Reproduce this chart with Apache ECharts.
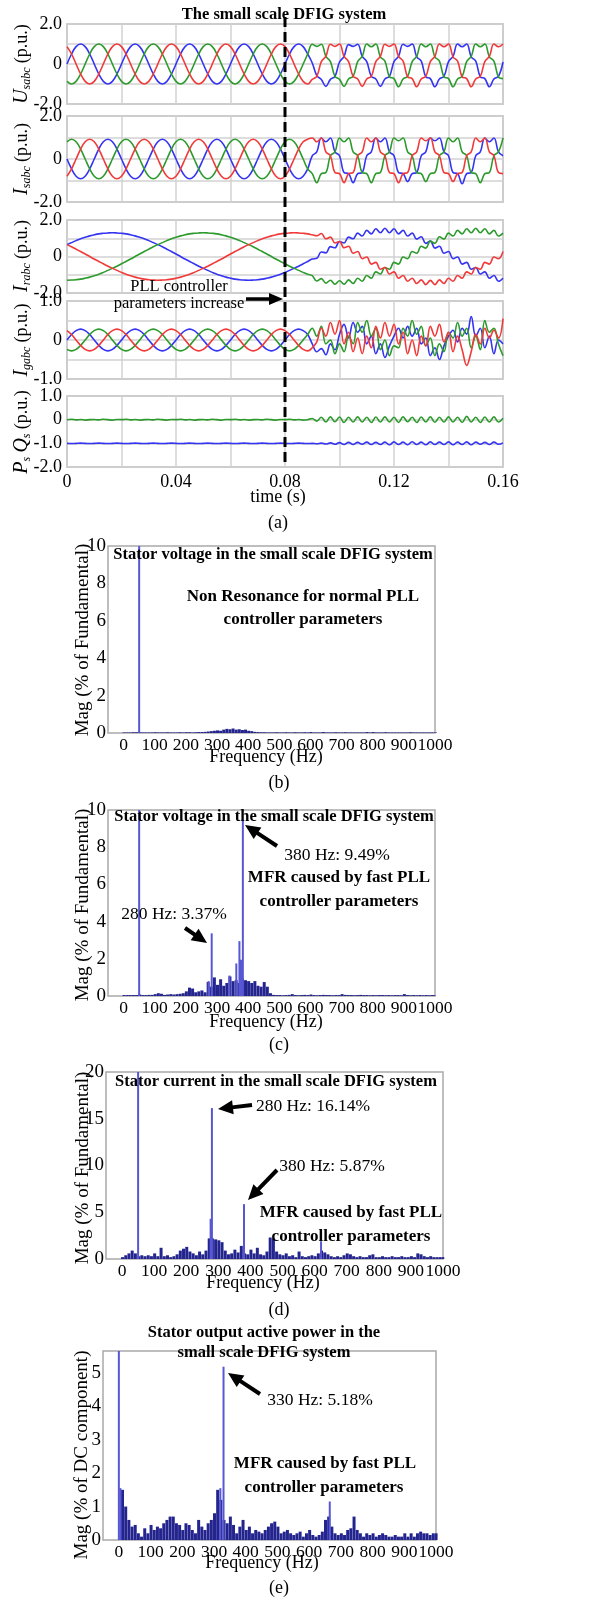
<!DOCTYPE html>
<html>
<head>
<meta charset="utf-8">
<script src="https://cdn.jsdelivr.net/npm/echarts@6/dist/echarts.min.js"></script>
<style>
  html, body { margin: 0; padding: 0; background: #fff; }
  #main { width: 608px; height: 1600px; }
</style>
</head>
<body>
<div id="main"></div>
<script>
// ---- (a) time waveforms, one sample every dt seconds ----
const dt = 1 / 600;

const usBlue = [
  0,.5,.87,1,.87,.5,0,-.5,-.87,-1,-.87,-.5,
  0,.5,.87,1,.87,.5,0,-.5,-.87,-1,-.87,-.5,
  0,.5,.87,1,.87,.5,0,-.5,-.87,-1,-.87,-.5,
  0,.5,.87,1,.87,.5,0,-.5,-.87,-1,-.87,-.5,
  0,.5,.87,1,.87,.5,.05,-.58,-.77,-1.12,-.77,-.62,
  .1,.38,.97,.88,.99,.38,.12,-.62,-.75,-1.12,-.75,-.62,
  .12,.38,.99,.88,1.0,.36,.14,-.64,-.73,-1.14,-.75,-.62,
  .12,.38,1.0,.86,1.0,.36,.14,-.64,-.73,-1.14,-.75,-.62,
  .1
];
const usRed = [
  .87,.5,0,-.5,-.87,-1,-.87,-.5,0,.5,.87,1,
  .87,.5,0,-.5,-.87,-1,-.87,-.5,0,.5,.87,1,
  .87,.5,0,-.5,-.87,-1,-.87,-.5,0,.5,.87,1,
  .87,.5,0,-.5,-.87,-1,-.87,-.5,0,.5,.87,1,
  .87,.5,0,-.5,-.87,-1,-.77,-.62,.12,.38,.99,.88,
  1.0,.38,.12,-.62,-.75,-1.12,-.75,-.62,.12,.38,.99,.88,
  1.0,.38,.14,-.64,-.73,-1.14,-.75,-.62,.12,.38,1.0,.86,
  1.0,.36,.14,-.64,-.73,-1.14,-.75,-.62,.12,.38,1.0,.86,
  1.0
];
const usGreen = [
  -.87,-1,-.87,-.5,0,.5,.87,1,.87,.5,0,-.5,
  -.87,-1,-.87,-.5,0,.5,.87,1,.87,.5,0,-.5,
  -.87,-1,-.87,-.5,0,.5,.87,1,.87,.5,0,-.5,
  -.87,-1,-.87,-.5,0,.5,.87,1,.87,.5,0,-.5,
  -.87,-1,-.87,-.5,0,.5,.99,.88,.99,.38,.12,-.62,
  -.77,-1.12,-.75,-.62,.12,.38,1.0,.86,1.0,.36,.14,-.64,
  -.73,-1.14,-.75,-.62,.12,.38,1.0,.86,1.0,.36,.14,-.64,
  -.73,-1.14,-.75,-.62,.12,.38,1.0,.86,1.0,.36,.14,-.64,
  -.73
];

const isBlue = [
  0,-.46,-.8,-.92,-.8,-.46,0,.46,.8,.92,.8,.46,
  0,-.46,-.8,-.92,-.8,-.46,0,.46,.8,.92,.8,.46,
  0,-.46,-.8,-.92,-.8,-.46,0,.46,.8,.92,.8,.46,
  0,-.46,-.8,-.92,-.8,-.46,0,.46,.8,.92,.8,.46,
  0,-.46,-.8,-.92,-.8,-.46,.15,.33,.98,.8,.98,.33,
  .15,-.63,-.68,-1.1,-.68,-.63,.15,.33,.98,.8,.98,.33,
  .15,-.63,-.68,-1.05,-.68,-.63,.15,.33,.98,.85,.98,.33,
  .15,-.63,-.68,-1.15,-.68,-.63,.15,.33,.98,.8,.98,.33,
  .15
];
const isGreen = [
  .8,.92,.8,.46,0,-.46,-.8,-.92,-.8,-.46,0,.46,
  .8,.92,.8,.46,0,-.46,-.8,-.92,-.8,-.46,0,.46,
  .8,.92,.8,.46,0,-.46,-.8,-.92,-.8,-.46,0,.46,
  .8,.92,.8,.46,0,-.46,-.8,-.92,-.8,-.46,0,.46,
  .8,.92,.8,.46,0,-.46,-.68,-1.1,-.68,-.63,.15,.33,
  .98,.8,.98,.33,.15,-.63,-.68,-1.1,-.68,-.63,.15,.33,
  .98,.85,.98,.33,.15,-.63,-.68,-1.05,-.68,-.63,.15,.33,
  .98,.8,.98,.33,.15,-.63,-.68,-1.1,-.68,-.63,.15,.33,
  .98
];
const isRed = [
  -.8,-.46,0,.46,.8,.92,.8,.46,0,-.46,-.8,-.92,
  -.8,-.46,0,.46,.8,.92,.8,.46,0,-.46,-.8,-.92,
  -.8,-.46,0,.46,.8,.92,.8,.46,0,-.46,-.8,-.92,
  -.8,-.46,0,.46,.8,.92,.8,.46,0,-.46,-.8,-.92,
  -.8,-.46,0,.46,.8,.92,.98,.8,.98,.33,.15,-.63,
  -.68,-1.1,-.68,-.63,.15,.33,.98,.8,.98,.33,.15,-.63,
  -.68,-1.1,-.68,-.63,.15,.33,.98,.85,.98,.33,.15,-.63,
  -.68,-1.05,-.68,-.63,.15,.33,.98,.8,.98,.33,.15,-.63,
  -.68
];

const irBlue = [
  .65,.76,.87,.97,1.05,1.13,1.19,1.24,1.27,1.29,
  1.3,1.29,1.27,1.24,1.19,1.13,1.05,.97,.87,.76,
  .65,.53,.40,.27,.14,0,-.14,-.27,-.40,-.53,
  -.65,-.76,-.87,-.97,-1.05,-1.13,-1.19,-1.24,-1.27,-1.29,
  -1.3,-1.29,-1.27,-1.24,-1.19,-1.13,-1.05,-.97,-.87,-.76,
  -.65,-.53,-.40,-.27,-.14,
  -.1,.25,.2,.54,.48,.82,.74,1.06,.97,1.28,1.12,1.43,1.24,1.52,1.3,1.55,1.3,1.52,1.24,1.43,1.12,
  1.28,.95,1.08,.72,.84,.46,.56,.18,.27,-.12,-.03,-.42,-.32,-.7,-.6,-.96,-.84,-1.19,-1.04,-1.36,-1.19
];
const irGreen = [
  -1.3,-1.29,-1.27,-1.24,-1.19,-1.13,-1.05,-.97,-.87,-.76,
  -.65,-.53,-.40,-.27,-.14,0,.14,.27,.40,.53,
  .65,.76,.87,.97,1.05,1.13,1.19,1.24,1.27,1.29,
  1.3,1.29,1.27,1.24,1.19,1.13,1.05,.97,.87,.76,
  .65,.53,.40,.27,.14,0,-.14,-.27,-.40,-.53,
  -.65,-.76,-.87,-.97,-1.05,
  -1.34,-1.21,-1.46,-1.3,-1.52,-1.33,-1.52,-1.28,-1.48,-1.19,-1.36,-1.04,-1.19,-.84,-.96,-.6,-.7,-.32,-.42,-.03,-.12,
  .27,.18,.56,.46,.84,.72,1.08,.95,1.28,1.12,1.43,1.24,1.52,1.3,1.55,1.3,1.52,1.24,1.43,1.12,1.28
];
const irRed = [
  .65,.53,.40,.27,.14,0,-.14,-.27,-.40,-.53,
  -.65,-.76,-.87,-.97,-1.05,-1.13,-1.19,-1.24,-1.27,-1.29,
  -1.3,-1.29,-1.27,-1.24,-1.19,-1.13,-1.05,-.97,-.87,-.76,
  -.65,-.53,-.40,-.27,-.14,0,.14,.27,.40,.53,
  .65,.76,.87,.97,1.05,1.13,1.19,1.24,1.27,1.29,
  1.3,1.29,1.27,1.24,1.19,
  1.14,1.26,.97,1.06,.74,.82,.48,.56,.18,.27,-.12,-.03,-.42,-.32,-.7,-.6,-.96,-.84,-1.19,-1.04,-1.36,
  -1.19,-1.48,-1.28,-1.54,-1.31,-1.54,-1.28,-1.48,-1.19,-1.36,-1.04,-1.19,-.84,-.96,-.6,-.7,-.32,-.42,-.03,-.12,.27
];

const igBlue = [
  0,.14,.24,.28,.24,.14,0,-.14,-.24,-.28,-.24,-.14,
  0,.14,.24,.28,.24,.14,0,-.14,-.24,-.28,-.24,-.14,
  0,.14,.24,.28,.24,.14,0,-.14,-.24,-.28,-.24,-.14,
  0,.14,.24,.28,.24,.14,0,-.14,-.24,-.28,-.24,-.14,
  0,.14,.24,.28,.24,.14,
  -.1,-.3,-.22,-.38,-.1,-.25,.15,.4,.05,.45,.2,.35,-.1,.1,-.35,-.1,-.45,-.15,.1,.3,.05,.35,
  .1,.3,-.1,.05,-.4,-.2,-.5,-.15,.1,.25,-.05,.3,.15,.6,.1,.3,-.2,.1,-.35,0,-.1
];
const igRed = [
  .24,.14,0,-.14,-.24,-.28,-.24,-.14,0,.14,.24,.28,
  .24,.14,0,-.14,-.24,-.28,-.24,-.14,0,.14,.24,.28,
  .24,.14,0,-.14,-.24,-.28,-.24,-.14,0,.14,.24,.28,
  .24,.14,0,-.14,-.24,-.28,-.24,-.14,0,.14,.24,.28,
  .24,.14,0,-.14,-.24,-.28,
  -.2,-.05,.3,.1,.45,.15,.5,-.1,.2,-.3,.05,-.35,.1,-.2,.35,.05,.45,.1,.4,-.1,.2,-.35,
  0,-.4,.1,-.15,.35,.1,.4,-.05,.2,-.3,.1,-.25,-.65,-.3,.15,-.1,.3,.05,.25,.05,.55
];
const igGreen = [
  -.24,-.28,-.24,-.14,0,.14,.24,.28,.24,.14,0,-.14,
  -.24,-.28,-.24,-.14,0,.14,.24,.28,.24,.14,0,-.14,
  -.24,-.28,-.24,-.14,0,.14,.24,.28,.24,.14,0,-.14,
  -.24,-.28,-.24,-.14,0,.14,.24,.28,.24,.14,0,-.14,
  -.24,-.28,-.24,-.14,0,.14,
  .3,.1,.35,-.1,0,-.35,-.1,-.3,.1,-.1,.45,.2,.5,.1,.3,-.25,0,-.4,-.15,-.2,.3,.1,
  .5,.15,.35,-.15,.05,-.4,-.1,-.3,.2,.05,.45,.1,.3,-.2,.1,-.25,.5,.2,.3,-.1,-.4
];

const qsGreen = [
  0,.02,-.01,.01,-.02,0,.01,-.01,.02,0,-.02,.01,
  0,.02,-.01,.01,-.02,0,.01,-.01,.02,0,-.02,.01,
  0,.02,-.01,.01,-.02,0,.01,-.01,.02,0,-.02,.01,
  0,.02,-.01,.01,-.02,0,.01,-.01,.02,0,-.02,.01,
  0,.02,-.01,.01,-.02,0,
  .05,-.06,.1,-.1,.12,-.09,.11,-.12,.1,-.1,.12,-.1,.1,-.12,.11,-.1,.12,-.1,.1,-.12,.12,-.09,
  .1,-.12,.11,-.1,.12,-.11,.1,-.1,.12,-.1,.1,-.12,.14,-.1,.1,-.12,.11,-.1,.12,-.1,.06
];
const psBlue = [
  -1,-1.01,-1,-.99,-1,-1.01,-1,-.99,-1,-1.01,-1,-.99,
  -1,-1.01,-1,-.99,-1,-1.01,-1,-.99,-1,-1.01,-1,-.99,
  -1,-1.01,-1,-.99,-1,-1.01,-1,-.99,-1,-1.01,-1,-.99,
  -1,-1.01,-1,-.99,-1,-1.01,-1,-.99,-1,-1.01,-1,-.99,
  -1,-1.01,-1,-.99,-1,-1.01,
  -1,-1.02,-.99,-1.03,-.98,-1.04,-.97,-1.05,-.96,-1.05,-.96,-1.04,-.95,-1.05,-.96,-1.05,-.95,-1.06,-.94,-1.05,-.95,-1.06,
  -.93,-1.05,-.95,-1.06,-.94,-1.05,-.95,-1.05,-.94,-1.06,-.95,-1.05,-.94,-1.06,-.95,-1.04,-.96,-1.05,-.95,-1.04,-.98
];

// ---- (b)-(e) spectra: bins every binHz from 0 to 1000 Hz, plus single spikes [Hz, %] ----
const binHz = 10;
const specB = [
  .03,.03,.03,.04,.04,.04,.03,.03,.03,.03,
  .04,.03,.03,.03,.04,.03,.03,.03,.04,.03,
  .04,.04,.03,.04,.05,.05,.06,.08,.1,.12,
  .14,.12,.18,.22,.2,.24,.18,.2,.16,.18,
  .12,.1,.06,.05,.04,.04,.03,.03,.03,.04,
  .03,.03,.04,.03,.03,.04,.03,.03,.04,.03,
  .05,.03,.03,.03,.05,.03,.03,.03,.04,.03,
  .03,.04,.03,.03,.03,.03,.03,.03,.05,.03,
  .05,.03,.03,.03,.04,.03,.03,.03,.03,.03,
  .03,.03,.04,.03,.03,.03,.03,.03,.03,.03,
  .03
];
const spikesB = [[50, 12]];

const specC = [
  .05,.05,.05,.05,.05,.08,.05,.05,.06,.06,
  .1,.15,.12,.06,.08,.1,.08,.1,.12,.15,
  .25,.45,.4,.2,.25,.3,.2,.75,.5,1.0,
  .6,.9,.55,.7,1.05,.8,.85,.7,.95,.85,
  .8,.7,.8,.55,.5,.75,.5,.15,.06,.05,
  .05,.04,.05,.06,.1,.05,.04,.05,.06,.05,
  .08,.05,.04,.05,.06,.05,.05,.04,.05,.05,
  .1,.06,.05,.05,.04,.05,.06,.05,.05,.04,
  .05,.04,.05,.05,.04,.05,.04,.05,.05,.04,
  .1,.05,.04,.05,.04,.05,.04,.05,.04,.05,
  .04
];
const spikesC = [[50, 12], [283, 3.37], [383, 9.49], [372, 2.95], [377, 1.95], [362, 1.75], [273, 0.8], [340, 1.1]];

const specD = [
  .2,.4,.6,.9,.6,.3,.4,.3,.4,.3,
  .6,.3,1.2,.3,.4,.2,.3,.5,.9,1.1,
  1.3,.8,.6,.4,.8,.5,.9,2.2,2.2,2.1,
  2.0,1.8,.9,.5,.6,1.0,.7,1.4,.6,.5,
  1.0,.6,1.2,.5,.4,.8,2.3,2.2,.8,.5,
  .4,.6,.3,.4,.2,.8,.3,.2,.3,.4,
  .3,.6,.9,.7,.5,.3,.2,.3,.2,.4,
  .6,.5,.3,.2,.3,.2,.2,.4,.5,.2,
  .2,.3,.2,.2,.3,.2,.2,.3,.2,.2,
  .3,.2,.6,.5,.3,.2,.3,.2,.2,.2,
  .2
];
const spikesD = [[50, 25], [280, 16.14], [276, 4.3], [380, 5.87], [620, 1.9]];

const specE = [
  0,1.5,1.0,.6,.4,.45,.2,.1,.35,.2,
  .45,.3,.4,.35,.5,.6,.7,.7,.5,.45,
  .3,.5,.45,.3,.2,.6,.4,.3,.5,.6,
  .8,1.5,1.2,.6,.5,.7,.45,.2,.4,.6,
  .3,.4,.2,.3,.25,.2,.3,.4,.5,.55,
  .4,.2,.25,.3,.2,.15,.2,.25,.1,.2,
  .3,.15,.1,.15,.25,.6,.7,.4,.2,.15,
  .2,.15,.3,.35,.7,.3,.2,.1,.2,.15,
  .2,.1,.15,.2,.15,.1,.1,.15,.1,.1,
  .2,.1,.2,.1,.2,.25,.2,.2,.15,.2,
  .2
];
const spikesE = [[0, 8], [5, 1.55], [320, 1.55], [330, 5.18], [665, 1.15]];

const SERIF = '"Liberation Serif", "DejaVu Serif", serif';
const C_BLUE = '#3434f2', C_RED = '#f03a3a', C_GREEN = '#2c9a2c';
const BAR_DARK = '#24248f', BAR_LIGHT = '#5757d4';

const chart = echarts.init(document.getElementById('main'), null, { renderer: 'canvas' });

// grid boxes: 0-4 waveforms, 5-8 spectra
const grids = [
  { left: 67, right: 105, top: 24, height: 80 },
  { left: 67, right: 105, top: 116, height: 86 },
  { left: 67, right: 105, top: 220, height: 73 },
  { left: 67, right: 105, top: 301, height: 78 },
  { left: 67, right: 105, top: 396, height: 71 },
  { left: 108, right: 173, top: 546, height: 187 },
  { left: 108, right: 173, top: 810, height: 186 },
  { left: 106, right: 165, top: 1072, height: 187 },
  { left: 103, right: 172, top: 1351, height: 189 }
].map(g => Object.assign({ show: true, borderColor: '#a9a9a9', borderWidth: 1.5, backgroundColor: 'transparent' }, g));

const tickFont = { fontFamily: SERIF, color: '#000' };
const split = { show: true, lineStyle: { color: '#d2d2d2', width: 1.5 } };

const xAxes = [], yAxes = [];
for (let i = 0; i < 5; i++) {
  xAxes.push({
    type: 'value', gridIndex: i, min: 0, max: 0.16, interval: 0.02,
    axisLine: { show: false }, axisTick: { show: false }, splitLine: split,
    axisLabel: Object.assign({
      show: i === 4, fontSize: 18, margin: 6,
      formatter: v => { const k = Math.round(v * 100); return k % 4 ? '' : (k === 0 ? '0' : (k / 100).toFixed(2)); }
    }, tickFont)
  });
}
const yRanges = [[-2, 2, 1], [-2, 2, 1], [-2, 2, 1], [-1, 1, 0.5], [-2, 1, 1]];
yRanges.forEach(([mn, mx, iv], i) => {
  yAxes.push({
    type: 'value', gridIndex: i, min: mn, max: mx, interval: iv,
    axisLine: { show: false }, axisTick: { show: false }, splitLine: split,
    axisLabel: Object.assign({
      fontSize: 18, margin: 5,
      formatter: v => {
        if (v === 0) return '0';
        if (i === 4) return v.toFixed(1);
        if (i === 3) return Math.abs(v) === 1 ? v.toFixed(1) : '';
        return Math.abs(v) === 2 ? v.toFixed(1) : '';
      }
    }, tickFont)
  });
});
const specY = [[10, 2], [10, 2], [20, 5], [5.65, 1]];
specY.forEach(([mx, iv], k) => {
  const g = 5 + k;
  xAxes.push({
    type: 'value', gridIndex: g, min: -50, max: 1000, interval: 50,
    axisLine: { show: false }, axisTick: { show: false }, splitLine: { show: false },
    axisLabel: Object.assign({ fontSize: 17.5, margin: 3, formatter: v => (v % 100 === 0 ? String(v) : '') }, tickFont)
  });
  yAxes.push({
    type: 'value', gridIndex: g, min: 0, max: mx, interval: iv,
    axisLine: { show: false }, axisTick: { show: false }, splitLine: { show: false },
    axisLabel: Object.assign({ fontSize: 19, margin: 2, formatter: v => (Number.isInteger(v) ? String(v) : '') }, tickFont)
  });
});

const wave = arr => arr.map((v, i) => [i * dt, v]);
const line = (g, arr, color) => ({
  type: 'line', xAxisIndex: g, yAxisIndex: g, data: wave(arr), showSymbol: false, smooth: 0.4,
  lineStyle: { color: color, width: 1.6 }, silent: true
});
const bars = (g, data, color, w) => ({
  type: 'bar', xAxisIndex: g, yAxisIndex: g, data: data, barWidth: w, barGap: '-100%',
  itemStyle: { color: color }, clip: true, silent: true
});

const series = [
  line(0, usBlue, C_BLUE), line(0, usGreen, C_GREEN), line(0, usRed, C_RED),
  line(1, isBlue, C_BLUE), line(1, isGreen, C_GREEN), line(1, isRed, C_RED),
  line(2, irBlue, C_BLUE), line(2, irGreen, C_GREEN), line(2, irRed, C_RED),
  line(3, igBlue, C_BLUE), line(3, igGreen, C_GREEN), line(3, igRed, C_RED),
  line(4, psBlue, C_BLUE), line(4, qsGreen, C_GREEN)
];
[[specB, spikesB], [specC, spikesC], [specD, spikesD], [specE, spikesE]].forEach(([spec, spk], k) => {
  series.push(bars(5 + k, spec.map((v, i) => [i * binHz, v]), BAR_DARK, 3));
  series.push(bars(5 + k, spk, BAR_LIGHT, 2));
});

chart.setOption({
  animation: false,
  grid: grids,
  xAxis: xAxes,
  yAxis: yAxes,
  series: series
});

// ---- annotations ----
function txt(x, y, s, size, bold, rot) {
  return {
    type: 'text', x: x, y: y, rotation: rot || 0, z: 100,
    style: {
      text: s, fill: '#000', fontFamily: SERIF, fontSize: size, fontWeight: bold ? 'bold' : 'normal',
      textAlign: 'center', textVerticalAlign: 'middle', align: 'center', verticalAlign: 'middle'
    }
  };
}
function arrow(x1, y1, x2, y2, w, hl, hw) {
  const dx = x2 - x1, dy = y2 - y1, L = Math.hypot(dx, dy), ux = dx / L, uy = dy / L;
  const bx = x2 - ux * hl, by = y2 - uy * hl;
  return [
    { type: 'line', z: 100, shape: { x1: x1, y1: y1, x2: bx + ux, y2: by + uy }, style: { stroke: '#000', lineWidth: w } },
    { type: 'polygon', z: 100, shape: { points: [[x2, y2], [bx - uy * hw, by + ux * hw], [bx + uy * hw, by - ux * hw]] }, style: { fill: '#000' } }
  ];
}
function yName(x, y, s) {
  return {
    type: 'text', x: x, y: y, rotation: Math.PI / 2, z: 100,
    style: {
      text: s, fill: '#000', textAlign: 'center', textVerticalAlign: 'middle', align: 'center', verticalAlign: 'middle',
      fontFamily: SERIF, fontSize: 17,
      rich: {
        v: { fontFamily: SERIF, fontStyle: 'italic', fontSize: 20, fill: '#000' },
        s: { fontFamily: SERIF, fontStyle: 'italic', fontSize: 12, fill: '#000', padding: [10, 0, 0, 0] },
        n: { fontFamily: SERIF, fontSize: 18, fill: '#000' }
      }
    }
  };
}

const xDash = chart.convertToPixel({ gridIndex: 0 }, [0.08, 0])[0];
const g = [
  txt(284, 15, 'The small scale DFIG system', 16.5, true),
  yName(22, 64, '{v|U}{s|sabc} {n|(p.u.)}'),
  yName(22, 159, '{v|I}{s|sabc} {n|(p.u.)}'),
  yName(22, 256, '{v|I}{s|rabc} {n|(p.u.)}'),
  yName(22, 340, '{v|I}{s|gabc} {n|(p.u.)}'),
  yName(22, 432, '{v|P}{s|s} {v|Q}{s|s} {n|(p.u.)}'),
  txt(278, 497, 'time (s)', 18),
  txt(278, 523, '(a)', 18),
  txt(179, 287, 'PLL controller', 16.5),
  txt(179, 304, 'parameters increase', 16.5),
  ...arrow(246, 299, 283, 299, 3.5, 14, 6),
  { type: 'line', z: 101, shape: { x1: xDash, y1: 17, x2: xDash, y2: 467 }, style: { stroke: '#000', lineWidth: 3, lineDash: [10, 5] } },

  txt(273, 555, 'Stator voltage in the small scale DFIG system', 16.5, true),
  txt(303, 597, 'Non Resonance for normal PLL', 17, true),
  txt(303, 620, 'controller parameters', 17, true),
  txt(266, 757, 'Frequency (Hz)', 18),
  txt(279, 783, '(b)', 18),
  txt(83, 640, 'Mag (% of Fundamental)', 19, false, Math.PI / 2),

  txt(274, 817, 'Stator voltage in the small scale DFIG system', 16.5, true),
  txt(337, 855, '380 Hz: 9.49%', 17.5),
  txt(339, 878, 'MFR caused by fast PLL', 17, true),
  txt(339, 902, 'controller parameters', 17, true),
  txt(174, 914, '280 Hz: 3.37%', 17.5),
  ...arrow(277, 846, 245, 825, 4, 15, 7),
  ...arrow(185, 928, 207, 943, 4, 15, 7),
  txt(266, 1022, 'Frequency (Hz)', 18),
  txt(279, 1045, '(c)', 18),
  txt(83, 905, 'Mag (% of Fundamental)', 19, false, Math.PI / 2),

  txt(276, 1082, 'Stator current in the small scale DFIG system', 16.5, true),
  txt(313, 1106, '280 Hz: 16.14%', 17.5),
  ...arrow(252, 1105, 218, 1109, 4, 15, 7),
  txt(332, 1166, '380 Hz: 5.87%', 17.5),
  ...arrow(277, 1170, 248, 1200, 4, 15, 7),
  txt(351, 1213, 'MFR caused by fast PLL', 17, true),
  txt(351, 1237, 'controller parameters', 17, true),
  txt(263, 1283, 'Frequency (Hz)', 18),
  txt(279, 1310, '(d)', 18),
  txt(83, 1168, 'Mag (% of Fundamental)', 19, false, Math.PI / 2),

  txt(264, 1333, 'Stator output active power in the', 16.5, true),
  txt(264, 1353, 'small scale DFIG system', 16.5, true),
  txt(320, 1400, '330 Hz: 5.18%', 17.5),
  ...arrow(260, 1394, 228, 1373, 4, 15, 7),
  txt(325, 1464, 'MFR caused by fast PLL', 17, true),
  txt(324, 1488, 'controller parameters', 17, true),
  txt(262, 1563, 'Frequency (Hz)', 18),
  txt(279, 1588, '(e)', 18),
  txt(82, 1455, 'Mag (% of DC component)', 19, false, Math.PI / 2)
];
chart.setOption({ graphic: { elements: g } });
</script>
</body>
</html>
